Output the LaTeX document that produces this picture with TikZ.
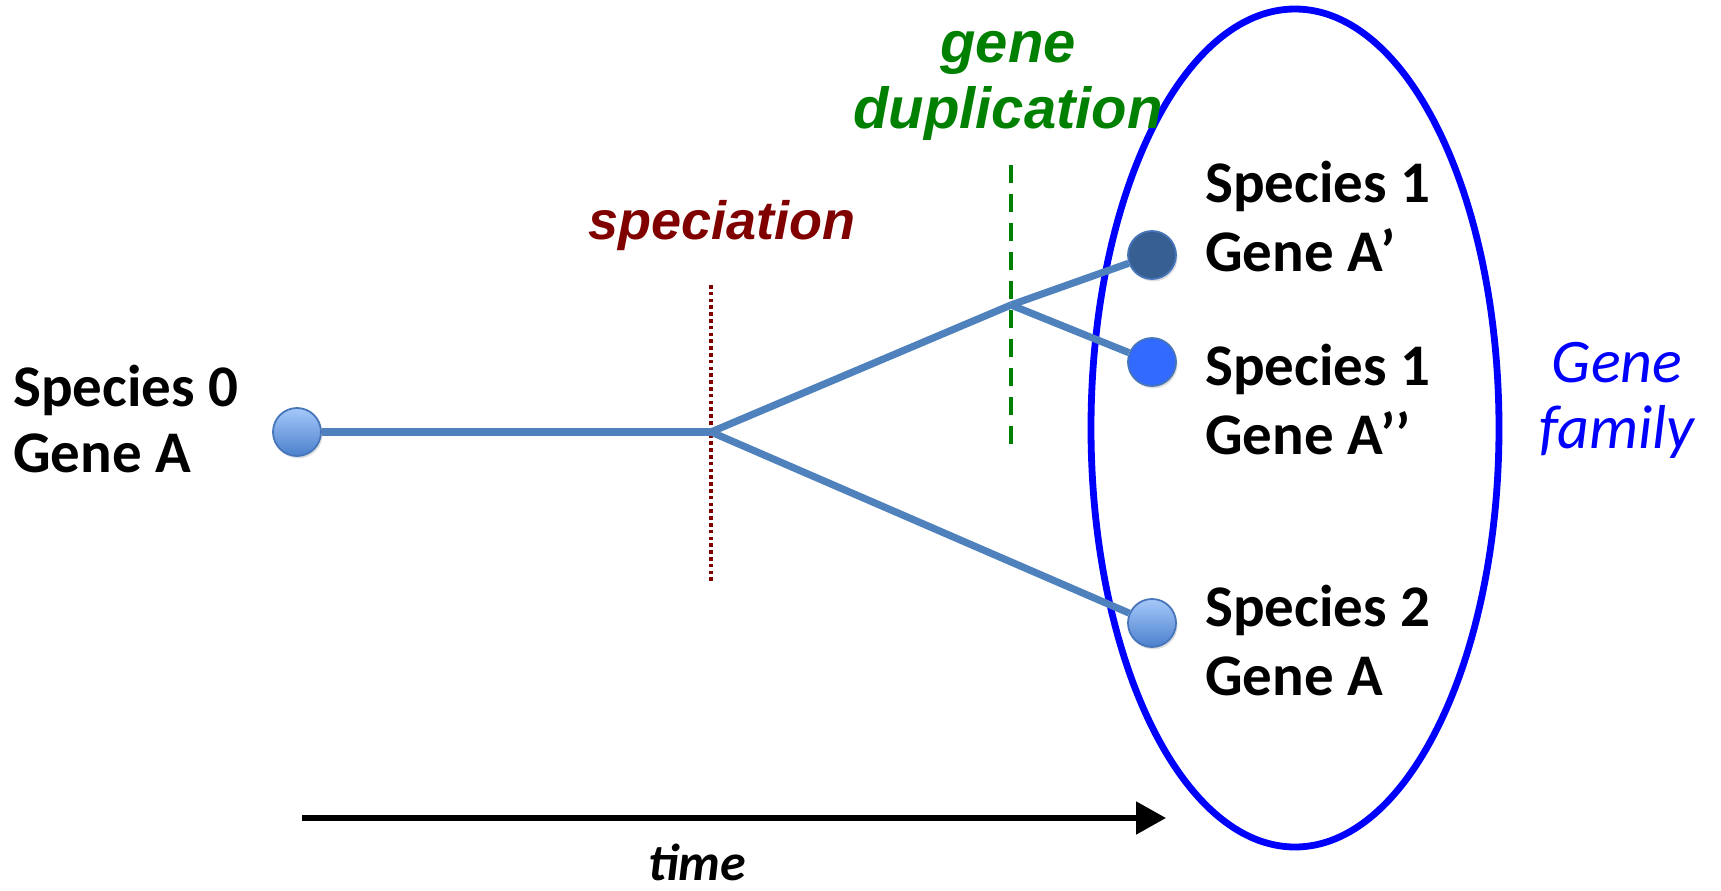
\documentclass[tikz,border=0pt]{standalone}
\usepackage{fontspec}
\setmainfont{Carlito}
\newfontfamily\arialfont{Liberation Sans}
\usetikzlibrary{arrows.meta,shadows,shapes.geometric}
\definecolor{branch}{RGB}{79,129,189}
\definecolor{nodeborder}{RGB}{70,118,185}
\definecolor{lighttop}{RGB}{165,200,250}
\definecolor{lightbot}{RGB}{75,128,205}
\definecolor{darkfill}{RGB}{55,95,145}
\definecolor{brightfill}{RGB}{50,105,255}
\definecolor{specred}{RGB}{128,0,0}
\definecolor{dupgreen}{RGB}{0,128,0}
\begin{document}
\begin{tikzpicture}[x=0.5pt,y=-0.5pt,
  gene/.style={circle, minimum size=24pt, inner sep=0pt, draw=nodeborder, line width=0.9pt,
    drop shadow={opacity=0.25, shadow xshift=0.8pt, shadow yshift=-1.2pt}},
  genelight/.style={gene, top color=lighttop, bottom color=lightbot},
  genedark/.style={gene, fill=darkfill},
  genebright/.style={gene, fill=brightfill},
  branchline/.style={draw=branch, line width=3.6pt},
  label/.style={font=\fontsize{29.5}{34.5}\selectfont\bfseries, align=left, anchor=west, inner sep=0pt},
  event/.style={font=\arialfont\fontsize{27}{33}\selectfont\bfseries\itshape, inner sep=0pt, align=center},
  timearrow/.style={line width=2.6pt, -{Triangle[length=15pt,width=16pt]}}
]
\useasboundingbox (0,0) rectangle (1721,890);

% gene family ellipse
\node[ellipse, draw=blue, line width=3.4pt, minimum width=408pt*0.5, minimum height=838pt*0.5, inner sep=0pt] (family) at (1295,428) {};

% event markers
\coordinate (spTop) at (711,285);
\coordinate (spBot) at (711,582);
\draw[specred, line width=2.1pt, dash pattern=on 1.8pt off 1.6pt] (spTop) -- (spBot);
\coordinate (dupTop) at (1011,165);
\coordinate (dupBot) at (1011,450);
\draw[dupgreen, line width=2.4pt, dash pattern=on 9pt off 5.5pt] (dupTop) -- (dupBot);

% tree
\coordinate (sp) at (711,432);
\coordinate (dup) at (1011,305);
\node[genelight] (g0) at (297,432) {};
\node[genedark] (g1a) at (1152,255) {};
\node[genebright] (g1b) at (1152,362) {};
\node[genelight] (g2) at (1152,623) {};
\draw[branchline] (g0) -- (sp);
\draw[branchline] (sp) -- (dup);
\draw[branchline] (dup) -- (g1a);
\draw[branchline] (dup) -- (g1b);
\draw[branchline] (sp) -- (g2);

% labels
\node[label, font=\fontsize{29.5}{33}\selectfont\bfseries] (l0) at (13,419) {Species 0\\Gene A};
\node[label] (l1a) at (1205,217) {Species 1\\Gene A’};
\node[label] (l1b) at (1205,400) {Species 1\\Gene A’’};
\node[label] (l2) at (1205,641) {Species 2\\Gene A};

\node[event, text=specred] (speciation) at (722,226) {speciation};
\node[event, text=dupgreen, font=\arialfont\fontsize{29}{33}\selectfont\bfseries\itshape] (duplication) at (1008,86) {gene\\duplication};

\node[font=\fontsize{31}{33}\selectfont\itshape, text=blue, align=center, inner sep=0pt] (familylabel) at (1617,400) {Gene\\family};

% time arrow
\coordinate (t0) at (302,818);
\coordinate (t1) at (1166,818);
\draw[timearrow] (t0) -- (t1);
\node[font=\fontsize{26}{30}\selectfont\bfseries\itshape, inner sep=0pt] (time) at (697,862) {time};
\end{tikzpicture}
\end{document}
